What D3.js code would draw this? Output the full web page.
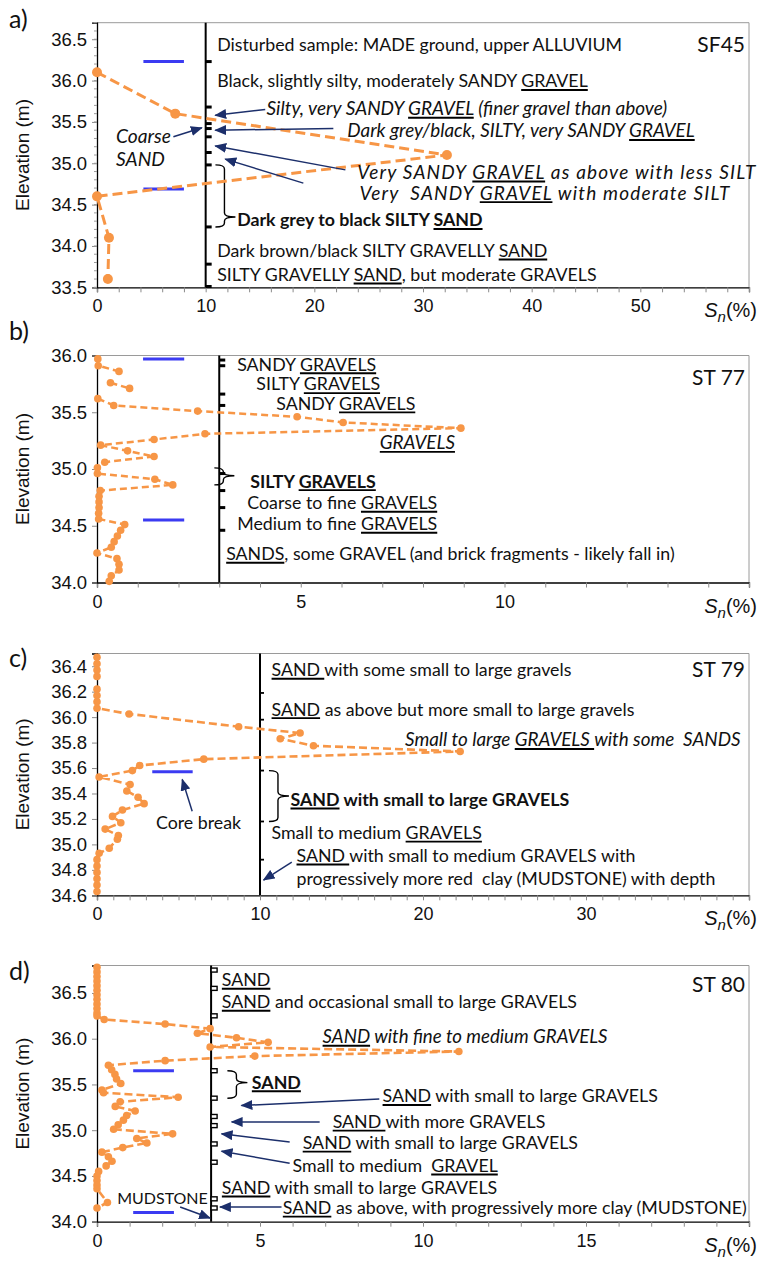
<!DOCTYPE html>
<html><head><meta charset="utf-8">
<script src="https://cdn.jsdelivr.net/npm/d3@7"></script>
<style>body{margin:0;background:#fff}svg{display:block}</style>
</head><body>
<svg id="chart" width="765" height="1261"></svg>
<script>
// ---------------- DATA ----------------
// Panel a) SF45
const sf45Elev = [36.1, 35.6, 35.1, 34.6, 34.1, 33.6];
const sf45Sn   = [0, 7.2, 32.2, 0, 1.1, 1.0];
// Panel b) ST 77  (null = gap)
const st77Elev = [35.97,35.91,35.86,35.81,35.76,35.71,35.66,35.62,35.56,35.51,35.46,35.41,35.36,35.31,35.26,35.21,35.16,35.11,35.06,35.01,34.96,34.91,34.86,34.81,34.76,34.71,34.66,34.61,34.56,34.51,34.46,34.41,34.36,34.31,34.26,34.21,34.16,34.11,34.06,34.01];
const st77Sn   = [0.02,0.03,0.54,null,0.33,0.80,null,0.02,0.41,2.47,4.91,6.04,8.93,2.65,1.40,0.09,0.75,1.40,0.19,0.01,0.01,1.42,1.86,0.08,0.05,0.05,0.05,0.04,0.04,0.68,0.58,0.50,0.42,0.35,0.0,0.49,0.54,0.54,0.35,0.30];
// Panel c) ST 79
const st79Elev = [36.47,36.42,36.37,36.32,36.27,36.22,36.17,36.12,36.07,36.025,35.925,35.875,35.83,35.775,35.73,35.67,35.62,35.58,35.53,35.47,35.42,35.37,35.32,35.27,35.22,35.17,35.12,35.07,35.04,34.97,34.93,34.88,34.83,34.78,34.73,34.68,34.63];
const st79Sn   = [0,0,0,0,null,0,0,0,0,1.97,8.69,12.46,11.24,13.28,22.28,6.55,2.62,2.17,0.13,2.03,1.83,2.52,2.89,1.56,0.95,1.46,0.50,1.31,1.25,0.75,0.13,0,0,0,0,0,0];
// Panel d) ST 80
const st80Elev = [36.78,36.73,36.68,36.63,36.58,36.53,36.48,36.43,36.38,36.33,36.28,36.25,36.21,36.16,36.11,36.06,36.01,35.96,35.91,35.86,35.81,35.76,35.71,35.66,35.61,35.56,35.51,35.44,35.41,35.36,35.31,35.26,35.21,35.16,35.11,35.06,35.01,34.96,34.91,34.86,34.81,34.76,34.71,34.66,34.61,34.55,34.50,34.45,34.40,34.36,34.21,34.15];
const st80Sn   = [0,0,0,0,0,0,0,0,0,0,0,0,0.22,2.09,3.47,3.08,4.28,5.25,3.47,11.1,4.84,2.09,0.35,0.45,0.55,0.6,0.73,0.15,0.2,2.49,0.71,0.56,1.17,0.91,0.81,0.65,0.51,2.32,1.22,1.53,0.79,0.15,0.35,0.46,0.28,0.05,0,0,0,0,0.32,0];

// sample-interval markers (elevation, Sn from, Sn to)
const sf45Samples = [[36.23,4.27,8.0],[34.69,4.27,8.0]];
const st77Samples = [[35.97,1.13,2.14],[34.55,1.13,2.14]];
const st79Samples = [[35.57,3.39,5.87]];
const st80Samples = [[35.65,1.11,2.36],[34.10,1.11,2.36]];

// log boundary ticks on the reference line (elevations)
const sf45Bounds = [36.23,35.68,35.48,35.42,35.32,35.13,34.98,34.23,33.78,33.51];
const st77Bounds = [35.96,35.91,35.66,35.56,34.96,34.81,34.66,34.46];
const st79Bounds = [36.19,35.98,35.58,35.18,34.88];
const st80Bounds = [36.75,36.55,36.25,35.65,35.35,35.15,35.05,34.85,34.65,34.25,34.15];

// descriptions: text (_x_ = underlined), Sn position, elevation
const sf45Notes = [
 {t:"Disturbed sample: MADE ground, upper ALLUVIUM", x:11.06, e:36.43},
 {t:"Black, slightly silty, moderately SANDY _GRAVEL_", x:11.06, e:35.99},
 {t:"Silty, very SANDY _GRAVEL_ (finer gravel than above)", x:15.6, e:35.66, s:"i", k:1.07},
 {t:"Dark grey/black, SILTY, very SANDY _GRAVEL_", x:23.04, e:35.39, s:"i", k:1.06},
 {t:"Coarse", x:1.75, e:35.32, s:"i", k:1.08},
 {t:"SAND", x:1.75, e:35.04, s:"i", k:1.08},
 {t:"Very SANDY _GRAVEL_ as above with less SILT", x:23.96, e:34.89, s:"i", k:1.07, w:398},
 {t:"Very  SANDY _GRAVEL_ with moderate SILT", x:24.15, e:34.64, s:"i", k:1.07, w:370},
 {t:"Dark grey to black SILTY _SAND_", x:12.9, e:34.31, s:"b"},
 {t:"Dark brown/black SILTY GRAVELLY _SAND_", x:11.06, e:33.94},
 {t:"SILTY GRAVELLY _SAND_, but moderate GRAVELS", x:11.06, e:33.65}
];
const st77Notes = [
 {t:"SANDY _GRAVELS_", x:3.44, e:35.92},
 {t:"SILTY _GRAVELS_", x:3.91, e:35.745},
 {t:"SANDY _GRAVELS_", x:4.40, e:35.575},
 {t:"_GRAVELS_", x:6.94, e:35.23, s:"i", k:1.06},
 {t:"SILTY _GRAVELS_", x:3.76, e:34.89, s:"b"},
 {t:"Coarse to fine _GRAVELS_", x:3.69, e:34.70},
 {t:"Medium to fine _GRAVELS_", x:3.44, e:34.515},
 {t:"_SANDS_, some GRAVEL (and brick fragments - likely fall in)", x:3.17, e:34.25}
];
const st79Notes = [
 {t:"_SAND _with some small to large gravels", x:10.71, e:36.37},
 {t:"_SAND_ as above but more small to large gravels", x:10.71, e:36.06},
 {t:"Small to large _GRAVELS _with some  SANDS", x:18.9, e:35.82, s:"i", k:1.06},
 {t:"_SAND_ with small to large GRAVELS", x:11.87, e:35.35, s:"b"},
 {t:"Small to medium _GRAVELS_", x:10.71, e:35.09},
 {t:"_SAND _with small to medium GRAVELS with", x:12.24, e:34.91},
 {t:"progressively more red  clay (MUDSTONE) with depth", x:12.24, e:34.73},
 {t:"Core break", x:3.62, e:35.17}
];
const st80Notes = [
 {t:"_SAND_", x:3.83, e:36.64},
 {t:"_SAND_ and occasional small to large GRAVELS", x:3.83, e:36.40},
 {t:"_SAND_ with fine to medium GRAVELS", x:6.92, e:36.02, s:"i", k:1.05},
 {t:"_SAND_", x:4.75, e:35.52, s:"b"},
 {t:"_SAND_ with small to large GRAVELS", x:8.76, e:35.37},
 {t:"_SAND _with more GRAVELS", x:7.23, e:35.09},
 {t:"_SAND_ with small to large GRAVELS", x:6.31, e:34.86},
 {t:"Small to medium  _GRAVEL_", x:6.0, e:34.61},
 {t:"_SAND_ with small to large GRAVELS", x:3.83, e:34.37},
 {t:"_SAND_ as above, with progressively more clay (MUDSTONE)", x:5.70, e:34.15},
 {t:"MUDSTONE", x:0.62, e:34.25, k:0.9}
];

// arrows [fromSn, fromElev, toSn, toElev]
const sf45Arrows = [[15.48,35.65,10.88,35.58],[7.03,35.32,9.65,35.43],[21.75,35.42,10.88,35.40],[22.86,34.92,10.88,35.21],[18.99,34.76,11.8,35.05]];
const st77Arrows = [];
const st79Arrows = [[5.84,35.26,5.23,35.51],[11.95,34.86,10.22,34.72]];
const st80Arrows = [[8.66,35.34,4.43,35.27],[6.83,35.09,4.13,35.09],[5.91,34.87,3.82,34.96],[5.91,34.64,3.82,34.77],[2.55,34.16,3.47,34.04],[5.66,34.16,3.77,34.16]];

// braces [Sn, top elev, bottom elev, tip elev]
const sf45Braces = [[10.9,34.98,34.23,34.35]];
const st77Braces = [[2.88,35.01,34.86,34.94]];
const st79Braces = [[10.55,35.58,35.18,35.38]];
const st80Braces = [[4.0,35.65,35.35,35.52]];

const panelLetters = ["a)","b)","c)","d)"];
const siteNames = ["SF45","ST 77","ST 79","ST 80"];

// ---------------- LAYOUT ----------------
const X0 = 97, X1 = 749;
const panels = [
 {elev:sf45Elev, sn:sf45Sn, samples:sf45Samples, bounds:sf45Bounds, notes:sf45Notes, arrows:sf45Arrows, braces:sf45Braces,
  xMax:60, xMajor:10, xLabelMax:50, xMinor:2, ref:10, yDom:[33.5,36.7], yPx:[287.3,22.7], yStep:0.5, yMinor:0.1, yFmt:".1f",
  r:5, dash:"10,5", sw:3, letterY:18, siteY:45, boundStyle:"solid"},
 {elev:st77Elev, sn:st77Sn, samples:st77Samples, bounds:st77Bounds, notes:st77Notes, arrows:st77Arrows, braces:st77Braces,
  xMax:16, xMajor:5, xLabelMax:10, xMinor:1, ref:3, yDom:[34,36], yPx:[582.5,355.5], yStep:0.5, yMinor:null, yFmt:".1f",
  r:3.8, dash:"7,4", sw:2.5, letterY:330, siteY:378, boundStyle:"solid"},
 {elev:st79Elev, sn:st79Sn, samples:st79Samples, bounds:st79Bounds, notes:st79Notes, arrows:st79Arrows, braces:st79Braces,
  xMax:40, xMajor:10, xLabelMax:30, xMinor:1, ref:10, yDom:[34.6,36.5], yPx:[895.3,653.5], yStep:0.2, yMinor:null, yFmt:".1f",
  r:3.8, dash:"8,4", sw:2.6, letterY:657, siteY:670, boundStyle:"thin"},
 {elev:st80Elev, sn:st80Sn, samples:st80Samples, bounds:st80Bounds, notes:st80Notes, arrows:st80Arrows, braces:st80Braces,
  xMax:20, xMajor:5, xLabelMax:15, xMinor:1, ref:3.5, yDom:[34,36.8], yPx:[1221.7,965.5], yStep:0.5, yMinor:null, yFmt:".1f",
  r:3.8, dash:"8,4", sw:2.6, letterY:970, siteY:985, boundStyle:"box"}
];

const ORANGE = "#F79646", BLUE = "#3b3bf2", NAVY = "#1c2f6b";
const annFont = "Lato, 'Open Sans', sans-serif";
const axFont = "'Liberation Sans', Arial, sans-serif";

const svg = d3.select("#chart");
const defs = svg.append("defs");
defs.append("marker").attr("id","arr").attr("viewBox","0 0 12 10").attr("refX",11).attr("refY",5)
  .attr("markerWidth",12).attr("markerHeight",10).attr("markerUnits","userSpaceOnUse").attr("orient","auto")
  .append("path").attr("d","M0,0 L12,5 L0,10 Z").attr("fill",NAVY);

// measure annotation font size to match reference width
const probe = svg.append("text").attr("font-family",annFont).attr("font-size",16).style("white-space","pre")
  .text("Disturbed sample: MADE ground, upper ALLUVIUM");
const FS = 16 * 405 / probe.node().getComputedTextLength();
probe.remove();

function rich(g, x, yc, str, style, size, anchor, width) {
  const fs = size || FS;
  const t = g.append("text").attr("x",x).attr("y",yc + fs*0.34)
    .attr("font-family",annFont).attr("font-size",fs).attr("fill","#111")
    .attr("text-anchor",anchor||"start").style("white-space","pre");
  if (style==="i") t.attr("font-style","italic");
  if (style==="b") t.attr("font-weight","bold");
  const parts = str.split(/(_[^_]+_)/).filter(s=>s.length);
  let idx = 0; const under = [];
  parts.forEach(p=>{
    let u=false;
    if (p.length>2 && p[0]==="_" && p[p.length-1]==="_") { p=p.slice(1,-1); u=true; }
    t.append("tspan").text(p);
    if (u) under.push([idx,p.length]);
    idx += p.length;
  });
  const node = t.node();
  if (width) {
    const nat = node.getComputedTextLength();
    t.attr("letter-spacing", ((width-nat)/Math.max(1,idx-1)).toFixed(3));
  }
  under.forEach(([s,n])=>{
    const a = node.getStartPositionOfChar(s).x, b = node.getEndPositionOfChar(s+n-1).x;
    g.append("line").attr("x1",a).attr("x2",b).attr("y1",yc+fs*0.34+2.6).attr("y2",yc+fs*0.34+2.6)
      .attr("stroke","#000").attr("stroke-width",1.9);
  });
  return t;
}

panels.forEach((P,i)=>{
  const g = svg.append("g");
  const x = d3.scaleLinear().domain([0,P.xMax]).range([X0,X1]);
  const y = d3.scaleLinear().domain(P.yDom).range(P.yPx);
  const top = P.yPx[1], bot = P.yPx[0];

  // frame
  g.append("line").attr("x1",X0).attr("x2",X1).attr("y1",top).attr("y2",top).attr("stroke","#9a9a9a").attr("stroke-width",1);
  g.append("line").attr("x1",X1).attr("x2",X1).attr("y1",top).attr("y2",bot).attr("stroke","#9a9a9a").attr("stroke-width",1);

  // x axis
  const xMinorVals = d3.range(0, P.xMax+1e-9, P.xMinor);
  const xAx = g.append("g").attr("transform",`translate(0,${bot})`)
    .call(d3.axisBottom(x).tickValues(xMinorVals).tickSize(5).tickFormat(d=> (Math.abs(d/P.xMajor-Math.round(d/P.xMajor))<1e-6 && d<=P.xLabelMax) ? d3.format("d")(d) : ""));
  xAx.select(".domain").attr("stroke","#000").attr("stroke-width",1.3);
  xAx.selectAll(".tick line").attr("stroke","#8a8a8a");
  xAx.selectAll(".tick text").attr("font-family",axFont).attr("font-size",18).attr("fill","#111").attr("dy","0.95em");

  // y axis
  const yVals = d3.range(P.yDom[0], P.yDom[1]+1e-9, P.yStep).map(v=>+v.toFixed(2)).filter(v=>v<=P.yDom[1]);
  const yAx = g.append("g").attr("transform",`translate(${X0},0)`)
    .call(d3.axisLeft(y).tickValues(yVals).tickSize(5).tickFormat(d3.format(P.yFmt)));
  yAx.select(".domain").attr("stroke","#000").attr("stroke-width",1.3);
  yAx.selectAll(".tick line").attr("stroke","#8a8a8a");
  yAx.selectAll(".tick text").attr("font-family",axFont).attr("font-size",18.5).attr("fill","#111").attr("dx","-0.1em");
  if (P.yMinor) {
    const mv = d3.range(P.yDom[0], P.yDom[1]+1e-9, P.yMinor).map(v=>+v.toFixed(2));
    g.append("g").selectAll("line").data(mv).join("line")
      .attr("x1",X0-3).attr("x2",X0).attr("y1",d=>y(d)).attr("y2",d=>y(d)).attr("stroke","#9a9a9a");
  }

  // axis titles
  g.append("text").attr("transform",`translate(22,${(top+bot)/2}) rotate(-90)`).attr("text-anchor","middle")
    .attr("dominant-baseline","central").attr("font-family",axFont).attr("font-size",19).attr("fill","#111").text("Elevation (m)");
  const sn = g.append("text").attr("x",757).attr("y",bot+30).attr("text-anchor","end")
    .attr("font-family",axFont).attr("font-size",20).attr("fill","#111");
  sn.append("tspan").attr("font-style","italic").text("S");
  sn.append("tspan").attr("font-style","italic").attr("font-size",15).attr("dy",5).text("n");
  sn.append("tspan").attr("dy",-5).text("(%)");

  // panel letter, site name
  g.append("text").attr("x",9).attr("y",P.letterY).attr("dominant-baseline","central")
    .attr("font-family",annFont).attr("font-size",25).attr("fill","#111").text(panelLetters[i]);
  rich(g, 745, P.siteY, siteNames[i], null, 21, "end");

  // reference line
  g.append("line").attr("x1",x(P.ref)).attr("x2",x(P.ref)).attr("y1",top).attr("y2",bot).attr("stroke","#000").attr("stroke-width",2);
  // boundary ticks
  const bx = x(P.ref);
  if (P.boundStyle==="box") {
    g.append("g").selectAll("rect").data(P.bounds).join("rect")
      .attr("x",bx).attr("y",d=>y(d)-2).attr("width",6).attr("height",4).attr("fill","#fff").attr("stroke","#000").attr("stroke-width",1.4);
  } else {
    g.append("g").selectAll("line").data(P.bounds).join("line")
      .attr("x1",bx).attr("x2",bx+(P.boundStyle==="thin"?4:6)).attr("y1",d=>y(d)).attr("y2",d=>y(d))
      .attr("stroke","#000").attr("stroke-width",P.boundStyle==="thin"?1.8:3);
  }

  // braces
  P.braces.forEach(([bxv,t0,b0,tip])=>{
    const xl = x(bxv), xm = xl+9, xt = xl+20, yt=y(t0), yb=y(b0), yn=y(tip), r=4;
    g.append("path").attr("fill","none").attr("stroke","#000").attr("stroke-width",1.4)
      .attr("d",`M${xl},${yt} Q${xm},${yt} ${xm},${yt+r} L${xm},${yn-r} Q${xm},${yn} ${xt},${yn} Q${xm},${yn} ${xm},${yn+r} L${xm},${yb-r} Q${xm},${yb} ${xl},${yb}`);
  });

  // sample markers
  g.append("g").selectAll("line").data(P.samples).join("line")
    .attr("x1",d=>x(d[1])).attr("x2",d=>x(d[2])).attr("y1",d=>y(d[0])).attr("y2",d=>y(d[0]))
    .attr("stroke",BLUE).attr("stroke-width",3);

  // data
  const pts = P.elev.map((e,k)=>({e, v:P.sn[k]}));
  const line = d3.line().defined(d=>d.v!==null).x(d=>x(d.v)).y(d=>y(d.e));
  g.append("path").datum(pts).attr("d",line).attr("fill","none").attr("stroke",ORANGE)
    .attr("stroke-width",P.sw).attr("stroke-dasharray",P.dash);
  g.append("g").selectAll("circle").data(pts.filter(d=>d.v!==null)).join("circle")
    .attr("cx",d=>x(d.v)).attr("cy",d=>y(d.e)).attr("r",P.r).attr("fill",ORANGE);

  // arrows
  g.append("g").selectAll("line").data(P.arrows).join("line")
    .attr("x1",d=>x(d[0])).attr("y1",d=>y(d[1])).attr("x2",d=>x(d[2])).attr("y2",d=>y(d[3]))
    .attr("stroke",NAVY).attr("stroke-width",1.5).attr("marker-end","url(#arr)");

  // notes
  P.notes.forEach(n=> rich(g, x(n.x), y(n.e), n.t, n.s, n.k ? FS*n.k : null, null, n.w));
});
</script>
</body></html>
